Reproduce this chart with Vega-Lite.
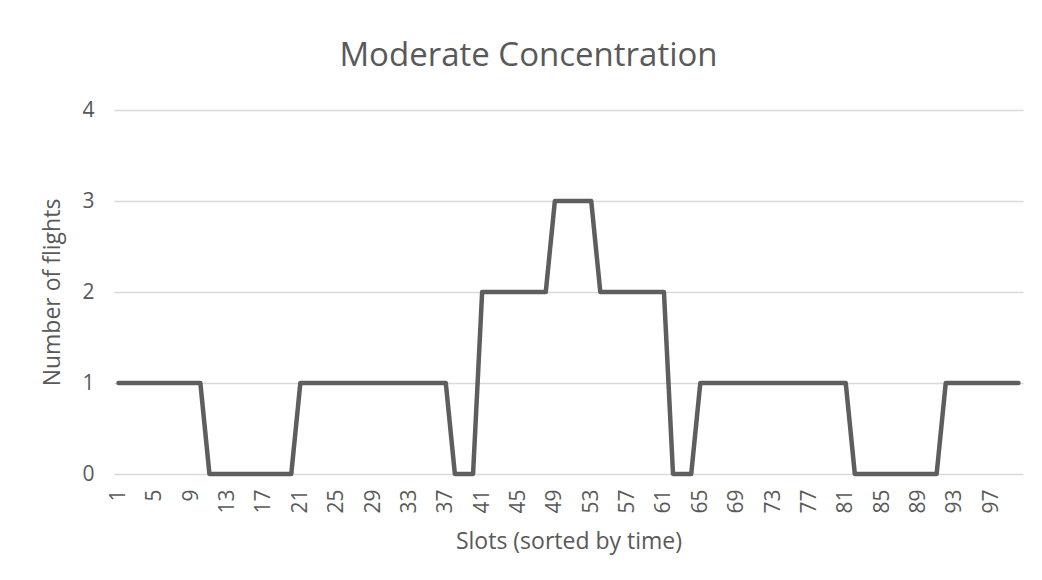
{
  "$schema": "https://vega.github.io/schema/vega-lite/v6.json",
  "width": 909,
  "height": 364,
  "autosize": {"type": "none"},
  "padding": {"left": 114, "top": 110, "right": 19, "bottom": 106},
  "background": "white",
  "title": {
    "text": "Moderate Concentration",
    "font": "Open Sans",
    "fontSize": 33,
    "fontWeight": "normal",
    "color": "#595959",
    "anchor": "middle",
    "dx": -40,
    "baseline": "alphabetic",
    "offset": 0
  },
  "data": {
    "values": [
      {"slot": 1, "flights": 1}, {"slot": 2, "flights": 1}, {"slot": 3, "flights": 1}, {"slot": 4, "flights": 1}, {"slot": 5, "flights": 1},
      {"slot": 6, "flights": 1}, {"slot": 7, "flights": 1}, {"slot": 8, "flights": 1}, {"slot": 9, "flights": 1}, {"slot": 10, "flights": 1},
      {"slot": 11, "flights": 0}, {"slot": 12, "flights": 0}, {"slot": 13, "flights": 0}, {"slot": 14, "flights": 0}, {"slot": 15, "flights": 0},
      {"slot": 16, "flights": 0}, {"slot": 17, "flights": 0}, {"slot": 18, "flights": 0}, {"slot": 19, "flights": 0}, {"slot": 20, "flights": 0},
      {"slot": 21, "flights": 1}, {"slot": 22, "flights": 1}, {"slot": 23, "flights": 1}, {"slot": 24, "flights": 1}, {"slot": 25, "flights": 1},
      {"slot": 26, "flights": 1}, {"slot": 27, "flights": 1}, {"slot": 28, "flights": 1}, {"slot": 29, "flights": 1}, {"slot": 30, "flights": 1},
      {"slot": 31, "flights": 1}, {"slot": 32, "flights": 1}, {"slot": 33, "flights": 1}, {"slot": 34, "flights": 1}, {"slot": 35, "flights": 1},
      {"slot": 36, "flights": 1}, {"slot": 37, "flights": 1}, {"slot": 38, "flights": 0}, {"slot": 39, "flights": 0}, {"slot": 40, "flights": 0},
      {"slot": 41, "flights": 2}, {"slot": 42, "flights": 2}, {"slot": 43, "flights": 2}, {"slot": 44, "flights": 2}, {"slot": 45, "flights": 2},
      {"slot": 46, "flights": 2}, {"slot": 47, "flights": 2}, {"slot": 48, "flights": 2}, {"slot": 49, "flights": 3}, {"slot": 50, "flights": 3},
      {"slot": 51, "flights": 3}, {"slot": 52, "flights": 3}, {"slot": 53, "flights": 3}, {"slot": 54, "flights": 2}, {"slot": 55, "flights": 2},
      {"slot": 56, "flights": 2}, {"slot": 57, "flights": 2}, {"slot": 58, "flights": 2}, {"slot": 59, "flights": 2}, {"slot": 60, "flights": 2},
      {"slot": 61, "flights": 2}, {"slot": 62, "flights": 0}, {"slot": 63, "flights": 0}, {"slot": 64, "flights": 0}, {"slot": 65, "flights": 1},
      {"slot": 66, "flights": 1}, {"slot": 67, "flights": 1}, {"slot": 68, "flights": 1}, {"slot": 69, "flights": 1}, {"slot": 70, "flights": 1},
      {"slot": 71, "flights": 1}, {"slot": 72, "flights": 1}, {"slot": 73, "flights": 1}, {"slot": 74, "flights": 1}, {"slot": 75, "flights": 1},
      {"slot": 76, "flights": 1}, {"slot": 77, "flights": 1}, {"slot": 78, "flights": 1}, {"slot": 79, "flights": 1}, {"slot": 80, "flights": 1},
      {"slot": 81, "flights": 1}, {"slot": 82, "flights": 0}, {"slot": 83, "flights": 0}, {"slot": 84, "flights": 0}, {"slot": 85, "flights": 0},
      {"slot": 86, "flights": 0}, {"slot": 87, "flights": 0}, {"slot": 88, "flights": 0}, {"slot": 89, "flights": 0}, {"slot": 90, "flights": 0},
      {"slot": 91, "flights": 0}, {"slot": 92, "flights": 1}, {"slot": 93, "flights": 1}, {"slot": 94, "flights": 1}, {"slot": 95, "flights": 1},
      {"slot": 96, "flights": 1}, {"slot": 97, "flights": 1}, {"slot": 98, "flights": 1}, {"slot": 99, "flights": 1}, {"slot": 100, "flights": 1}
    ]
  },
  "mark": {
    "type": "line",
    "color": "#5e5e5e",
    "strokeWidth": 4.5,
    "strokeCap": "round",
    "strokeJoin": "round",
    "clip": false
  },
  "encoding": {
    "x": {
      "field": "slot",
      "type": "quantitative",
      "scale": {"domain": [0.5, 100.5], "nice": false, "zero": false},
      "axis": {
        "values": [1, 5, 9, 13, 17, 21, 25, 29, 33, 37, 41, 45, 49, 53, 57, 61, 65, 69, 73, 77, 81, 85, 89, 93, 97],
        "labelAngle": -90,
        "labelAlign": "right",
        "labelBaseline": "middle",
        "labelPadding": 15,
        "labelFont": "Open Sans",
        "labelFontSize": 21,
        "labelColor": "#595959",
        "labelOverlap": false,
        "labelFlush": false,
        "ticks": false,
        "domain": false,
        "grid": false,
        "title": "Slots (sorted by time)",
        "titleFont": "Open Sans",
        "titleFontSize": 23,
        "titleFontWeight": "normal",
        "titleColor": "#595959",
        "titleY": 74,
        "titleBaseline": "alphabetic"
      }
    },
    "y": {
      "field": "flights",
      "type": "quantitative",
      "scale": {"domain": [0, 4], "nice": false},
      "axis": {
        "values": [0, 1, 2, 3, 4],
        "labelFont": "Open Sans",
        "labelFontSize": 21,
        "labelColor": "#595959",
        "labelPadding": 20,
        "ticks": false,
        "domain": false,
        "grid": true,
        "gridColor": "#d9d9d9",
        "gridWidth": 1.3,
        "title": "Number of flights",
        "titleFont": "Open Sans",
        "titleFontSize": 23,
        "titleFontWeight": "normal",
        "titleColor": "#595959",
        "titleX": -55,
        "titleBaseline": "alphabetic"
      }
    }
  },
  "config": {
    "view": {"stroke": null}
  }
}
